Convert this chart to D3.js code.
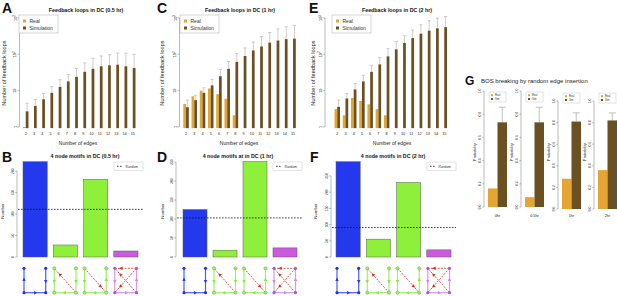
<!DOCTYPE html>
<html><head><meta charset="utf-8">
<script src="https://cdn.jsdelivr.net/npm/d3@7"></script>
<style>body{margin:0;background:#fff} svg{display:block;font-family:"Liberation Sans",Arial,sans-serif}</style>
</head><body><svg id="c" width="617" height="296"></svg>
<script>
// ---------- data ----------
const edges = [2,3,4,5,6,7,8,9,10,11,12,13,14,15];
const logTicks = [1,10,100,1000];
const realA = [1,0,0,0,0,0,0,0,0,0,0,0,0,0];
const simA  = [2.7,3.8,5.8,8.7,12.7,18,24,33,40,47,50,52,47,42];
const errA  = [4.5,5.7,8.4,13,20,28,41,58,78,90,98,108,108,100];
const realC = [4.3,7,10,11.5,8,6,2.1,0,0,0,0,0,0,0];
const simC  = [3.5,5.5,8.7,14,25,40,62,90,128,165,210,240,262,270];
const errC  = [5.5,7.5,12,20.5,38,63,105,150,218,310,400,500,575,620];
const realE = [3.1,2.1,6.3,5.2,4.2,3.1,2.1,0,0,0,0,0,0,0];
const simE  = [3.6,6.1,10.8,18,33,53,88,137,205,280,370,450,520,560];
const errE  = [5.5,8.4,15.7,26.5,50,81,143,226,325,470,650,840,990,1100];

const motifs = ["m1","m2","m3","m4"];
const motifB = [222,28,181,14];
const motifD = [125,18,251,24];
const motifF = [294,55,230,22];
const randomB = 111, randomD = 103, randomF = 91;
const ticksB = [0,50,100,150,200];
const ticksDF = [0,50,100,150,200,250];

const times = ["0hr","0.5hr","1hr","2hr"];
const bosReal = [0.16,0.085,0.28,0.36];
const bosSim  = [0.73,0.73,0.81,0.82];
const bosErr  = [0.86,0.86,0.89,0.89];
const probTicks = [0,0.2,0.4,0.6,0.8,1.0];

// ---------- style ----------
const REAL = "#E5A532", SIM = "#6B5122", ERR = "#B8B8B8";
const motifFill = ["#2438EE","#8FF03C","#8FF03C","#CC5AE0"];
const svg = d3.select("#c");

function txt(g, x, y, s, size, opts={}) {
  const t = g.append("text").attr("x", x).attr("y", y).attr("font-size", size)
    .attr("fill", opts.fill || "#111").text(s);
  if (opts.anchor) t.attr("text-anchor", opts.anchor);
  if (opts.bold) t.attr("font-weight", "bold");
  if (opts.rot) t.attr("transform", `rotate(-90,${x},${y})`);
  return t;
}

// ---------- feedback loop panels ----------
function loopPanel(c) {
  const g = svg.append("g");
  const y = d3.scaleLog().domain([1,1000]).range([127,18]);
  const x = d3.scaleBand().domain(edges).range([c.x0, c.x0 + 112.5]).paddingInner(1/3).paddingOuter(0);
  const bw = x.bandwidth()/2;
  const base = y(0.93);
  txt(g, c.lx, 12.5, c.letter, 14, {bold:true});
  txt(g, c.tx, 12, c.title, 5.3, {bold:true, anchor:"middle"});
  g.append("line").attr("x1", c.ax).attr("x2", c.ax).attr("y1", y(1)).attr("y2", y(1000)).attr("stroke","#777").attr("stroke-width",0.5);
  logTicks.forEach(v => {
    g.append("line").attr("x1", c.ax-1.8).attr("x2", c.ax).attr("y1", y(v)).attr("y2", y(v)).attr("stroke","#777").attr("stroke-width",0.5);
    const t = g.append("text").attr("x", c.ax-3).attr("y", y(v)).attr("font-size",3.8).attr("fill","#222")
      .attr("text-anchor","middle").attr("transform",`rotate(-90,${c.ax-3},${y(v)})`);
    if (v < 100) t.text(String(v));
    else { t.append("tspan").text("10"); t.append("tspan").attr("font-size",2.8).attr("dy",-1.5).text(String(Math.log10(v))); }
  });
  txt(g, c.ylx, 73, "Number of feedback loops", 5.6, {anchor:"middle", rot:true, fill:"#222"});
  edges.forEach((e,i) => {
    const cx = x(e) + bw*1.5;
    g.append("line").attr("x1",cx).attr("x2",cx).attr("y1",y(c.sim[i])).attr("y2",y(c.err[i])).attr("stroke",ERR).attr("stroke-width",0.7);
    g.append("line").attr("x1",cx-1.6).attr("x2",cx+1.6).attr("y1",y(c.err[i])).attr("y2",y(c.err[i])).attr("stroke",ERR).attr("stroke-width",0.7);
  });
  edges.forEach((e,i) => {
    if (c.real[i] > 0) g.append("rect").attr("x", x(e)).attr("width", bw).attr("y", y(c.real[i])).attr("height", base - y(c.real[i])).attr("fill", REAL);
    g.append("rect").attr("x", x(e)+bw).attr("width", bw).attr("y", y(c.sim[i])).attr("height", base - y(c.sim[i])).attr("fill", SIM);
    txt(g, x(e)+bw, 135, String(e), 3.8, {anchor:"middle", fill:"#222"});
  });
  txt(g, c.xlx, 144.5, "Number of edges", 5, {anchor:"middle", fill:"#222"});
  g.append("rect").attr("x", c.lgx).attr("y", 15).attr("width", 39).attr("height", 18).attr("fill","#fff").attr("stroke","#aaa").attr("stroke-width",0.5);
  g.append("rect").attr("x", c.lgx+4).attr("y", 19.5).attr("width", 3).attr("height", 3).attr("fill", REAL);
  g.append("rect").attr("x", c.lgx+4).attr("y", 26.5).attr("width", 3).attr("height", 3).attr("fill", SIM);
  txt(g, c.lgx+10.5, 22.8, "Real", 5, {fill:"#333"});
  txt(g, c.lgx+10.5, 29.8, "Simulation", 5, {fill:"#333"});
}
loopPanel({letter:"A", lx:2, title:"Feedback loops in DC (0.5 hr)", tx:86, real:realA, sim:simA, err:errA, x0:23, ax:19.5, ylx:6, xlx:78, lgx:19});
loopPanel({letter:"C", lx:157, title:"Feedback loops in DC (1 hr)", tx:240, real:realC, sim:simC, err:errC, x0:183.3, ax:179.5, ylx:164, xlx:239, lgx:180});
loopPanel({letter:"E", lx:309, title:"Feedback loops in DC (2 hr)", tx:397, real:realE, sim:simE, err:errE, x0:334.5, ax:325, ylx:315, xlx:392, lgx:332});

// ---------- motif panels ----------
const nodePos = {TL:[0,0], TR:[1,0], BL:[0,1], BR:[1,1]};
const motifEdges = [
  [["BL","TL",0],["BL","BR",0],["TR","BR",0]],
  [["TL","BL",0],["BR","BL",0],["TR","BR",0],["BR","TL",1]],
  [["TL","BL",0],["BR","BL",0],["BR","TR",0],["TL","BR",1]],
  [["TL","BL",0],["BL","BR",0],["BR","TR",0],["TR","TL",1],["BR","TL",1],["TR","BL",1]]
];
const edgeCol = ["#4A5EF2","#9CF070","#9CF070","#D996EC"];
const arrowCol = ["#2438EE","#86EC3A","#86EC3A","#D088E8"];
const nodeCol = ["#2436D8","#6FC03A","#6FC03A","#A85CC8"];
function arrowHead(g, x1,y1,x2,y2,t,col) {
  const px = x1+(x2-x1)*t, py = y1+(y2-y1)*t;
  const a = Math.atan2(y2-y1, x2-x1), L = 3.4, W = 1.7;
  const bx = px - L*Math.cos(a), by = py - L*Math.sin(a);
  const pts = [[px,py],[bx - W*Math.sin(a), by + W*Math.cos(a)],[bx + W*Math.sin(a), by - W*Math.cos(a)]];
  g.append("path").attr("d", "M"+pts.map(p=>p.join(",")).join("L")+"Z").attr("fill", col);
}
function motifPanel(c) {
  const g = svg.append("g");
  const y = d3.scaleLinear().domain([0, d3.max(c.vals)]).range([257, 161.7]);
  const x = d3.scaleBand().domain(motifs).range([c.x0, c.x1]).paddingInner(0.2).paddingOuter(0);
  txt(g, c.lx, 162, c.letter, 14, {bold:true});
  txt(g, c.tx, 157.8, c.title, 5.3, {bold:true, anchor:"middle"});
  const top = c.ticks[c.ticks.length-1];
  g.append("line").attr("x1",c.ax).attr("x2",c.ax).attr("y1",y(0)).attr("y2",y(top)).attr("stroke","#777").attr("stroke-width",0.5);
  c.ticks.forEach(v => {
    g.append("line").attr("x1",c.ax-1.8).attr("x2",c.ax).attr("y1",y(v)).attr("y2",y(v)).attr("stroke","#777").attr("stroke-width",0.5);
    txt(g, c.ax-3, y(v), String(v), 3.3, {anchor:"middle", rot:true, fill:"#333"});
  });
  txt(g, c.ylx, 211, "Number", 4.3, {anchor:"middle", rot:true, fill:"#222"});
  motifs.forEach((m,i) => {
    g.append("rect").attr("x", x(m)).attr("width", x.bandwidth()).attr("y", y(c.vals[i])).attr("height", y(0)-y(c.vals[i]))
      .attr("fill", motifFill[i]).attr("stroke","#5a5a5a").attr("stroke-width",0.5);
  });
  g.append("line").attr("x1", c.ax+1).attr("x2", c.lgx+29).attr("y1", y(c.rand)).attr("y2", y(c.rand))
    .attr("stroke","#111").attr("stroke-width",0.8).attr("stroke-dasharray","1.6,1.4");
  g.append("rect").attr("x", c.lgx).attr("y", 162).attr("width", 29).attr("height", 8.5).attr("fill","#fff").attr("stroke","#bbb").attr("stroke-width",0.4);
  g.append("line").attr("x1", c.lgx+3).attr("x2", c.lgx+9).attr("y1",166.3).attr("y2",166.3).attr("stroke","#111").attr("stroke-width",0.8).attr("stroke-dasharray","1.6,1.4");
  txt(g, c.lgx+11.5, 167.5, "Random", 3.3, {fill:"#333"});
  motifs.forEach((m,i) => {
    const X0 = x(m)+1, X1 = x(m)+x.bandwidth()-1.5, Y0 = 268.3, Y1 = 292.7;
    const P = k => [X0 + (X1-X0)*nodePos[k][0], Y0 + (Y1-Y0)*nodePos[k][1]];
    motifEdges[i].forEach(([a,b,d]) => {
      const [x1,y1] = P(a), [x2,y2] = P(b);
      const col = d ? "#DD2A1A" : edgeCol[i];
      const l = g.append("line").attr("x1",x1).attr("y1",y1).attr("x2",x2).attr("y2",y2).attr("stroke",col).attr("stroke-width", d?0.8:1.2);
      if (d) l.attr("stroke-dasharray","2,1.3");
      arrowHead(g, x1,y1,x2,y2, d?0.8:0.62, d ? "#DD2A1A" : arrowCol[i]);
    });
    ["TL","TR","BL","BR"].forEach(k => {
      const [px,py] = P(k);
      const cc = g.append("circle").attr("cx",px).attr("cy",py).attr("r",1.6);
      if (i===1 || i===2) cc.attr("fill","#A6E870").attr("stroke",nodeCol[i]).attr("stroke-width",0.6);
      else cc.attr("fill",nodeCol[i]);
    });
  });
}
motifPanel({letter:"B", lx:2, title:"4 node motifs in DC (0.5 hr)", tx:85, vals:motifB, rand:randomB, ticks:ticksB, ax:17, x0:23, x1:138, ylx:4, lgx:114});
motifPanel({letter:"D", lx:157, title:"4 node motifs at in DC (1 hr)", tx:238, vals:motifD, rand:randomD, ticks:ticksDF, ax:176, x0:183, x1:297, ylx:164, lgx:273});
motifPanel({letter:"F", lx:310, title:"4 node motifs in DC (2 hr)", tx:393, vals:motifF, rand:randomF, ticks:ticksDF, ax:331, x0:336, x1:451, ylx:317, lgx:427});

// ---------- panel G ----------
(function(){
  const g = svg.append("g");
  txt(g, 465, 84.5, "G", 12, {bold:true});
  txt(g, 481, 82.5, "BOS breaking by random edge insertion", 6, {fill:"#222"});
  const axX = [484, 521, 558, 594];
  const yr = [[207,91],[207,91],[209,101],[209,101]];
  times.forEach((t,i) => {
    const ax = axX[i];
    const y = d3.scaleLinear().domain([0,1]).range(yr[i]);
    const x = d3.scaleBand().domain(["Real","Sim"]).range([ax+4, ax+23]).padding(0);
    g.append("line").attr("x1",ax).attr("x2",ax).attr("y1",y(0)).attr("y2",y(1)).attr("stroke","#777").attr("stroke-width",0.5);
    probTicks.forEach(v => {
      g.append("line").attr("x1",ax-1.6).attr("x2",ax).attr("y1",y(v)).attr("y2",y(v)).attr("stroke","#777").attr("stroke-width",0.5);
      txt(g, ax-3, y(v), v.toFixed(1), 3.3, {anchor:"middle", rot:true, fill:"#333"});
    });
    txt(g, ax-8, 152, "Probability", 3.8, {anchor:"middle", rot:true, fill:"#222"});
    const cx = x("Sim") + x.bandwidth()/2;
    g.append("line").attr("x1",cx).attr("x2",cx).attr("y1",y(bosSim[i])).attr("y2",y(bosErr[i])).attr("stroke","#999").attr("stroke-width",0.6);
    g.append("line").attr("x1",cx-3.5).attr("x2",cx+3.5).attr("y1",y(bosErr[i])).attr("y2",y(bosErr[i])).attr("stroke","#999").attr("stroke-width",0.6);
    g.append("rect").attr("x",x("Real")).attr("width",x.bandwidth()).attr("y",y(bosReal[i])).attr("height",y(0)-y(bosReal[i])).attr("fill",REAL);
    g.append("rect").attr("x",x("Sim")).attr("width",x.bandwidth()).attr("y",y(bosSim[i])).attr("height",y(0)-y(bosSim[i])).attr("fill",SIM);
    txt(g, ax+13.5, 217, t, 3.8, {anchor:"middle", fill:"#222"});
    const ly = i < 2 ? 92 : 93;
    g.append("rect").attr("x",ax+5).attr("y",ly).attr("width",17).attr("height",10).attr("fill","#fff").attr("stroke","#bbb").attr("stroke-width",0.4);
    g.append("rect").attr("x",ax+7).attr("y",ly+2.2).attr("width",2).attr("height",2).attr("fill",REAL);
    g.append("rect").attr("x",ax+7).attr("y",ly+6).attr("width",2).attr("height",2).attr("fill",SIM);
    txt(g, ax+11, ly+4.2, "Real", 2.6, {fill:"#333"});
    txt(g, ax+11, ly+8, "Sim", 2.6, {fill:"#333"});
  });
})();
</script></body></html>
